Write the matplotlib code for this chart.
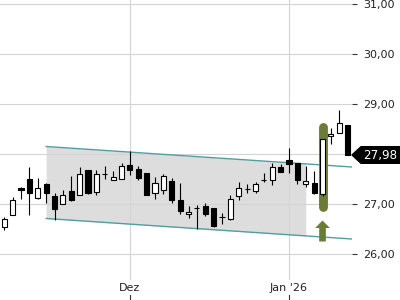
import numpy as np
import pandas as pd
import matplotlib
matplotlib.use("Agg")
import matplotlib.pyplot as plt
from matplotlib.patches import Polygon
from matplotlib.transforms import IdentityTransform, blended_transform_factory

# ---------------- data ----------------
dates = pd.bdate_range("2025-11-10", "2026-01-13", freq="C",
                       holidays=["2025-12-24", "2025-12-25", "2025-12-26",
                                 "2025-12-31", "2026-01-01"])
opens = [26.55, 26.78, 27.32, 27.51, 27.13, 27.41, 27.16, 27.01, 27.27, 27.19,
         27.68, 27.25, 27.61, 27.49, 27.51, 27.78, 27.71, 27.62, 27.23, 27.29,
         27.46, 27.09, 26.80, 26.92, 26.97, 26.93, 26.75, 26.70, 27.17, 27.31,
         27.27, 27.48, 27.49, 27.75, 27.89, 27.82, 27.41, 27.43, 27.21, 28.36,
         28.43, 28.59]
highs = [26.74, 27.14, 27.35, 27.75, 27.52, 27.43, 27.22, 27.29, 27.56, 27.75,
         27.68, 27.69, 27.76, 27.67, 27.83, 28.06, 27.76, 27.62, 27.54, 27.60,
         27.52, 27.43, 26.96, 26.98, 27.02, 26.93, 26.83, 27.18, 27.44, 27.41,
         27.45, 27.63, 27.83, 27.81, 28.13, 27.82, 27.76, 27.66, 28.31, 28.53,
         28.89, 28.59]
lows = [26.48, 26.78, 27.11, 26.79, 27.11, 27.02, 26.68, 27.01, 27.07, 27.19,
        27.21, 27.19, 27.51, 27.48, 27.51, 27.59, 27.48, 27.19, 27.11, 27.21,
        27.03, 26.81, 26.73, 26.51, 26.76, 26.55, 26.61, 26.68, 27.09, 27.23,
        27.23, 27.44, 27.39, 27.65, 27.63, 27.41, 27.35, 27.21, 27.17, 28.21,
        28.43, 27.98]
closes = [26.70, 27.08, 27.28, 27.23, 27.33, 27.21, 26.91, 27.19, 27.07, 27.61,
          27.21, 27.61, 27.59, 27.54, 27.76, 27.67, 27.51, 27.19, 27.43, 27.56,
          27.09, 26.85, 26.84, 26.92, 26.81, 26.55, 26.74, 27.11, 27.33, 27.30,
          27.40, 27.48, 27.75, 27.65, 27.81, 27.49, 27.47, 27.21, 28.31, 28.40,
          28.63, 27.98]
# trend channel: (start index, upper, lower) -> (end index, upper, lower)
channel_x = [5, 41.52]
channel_upper = [28.15, 27.74]
channel_lower = [26.71, 26.30]
channel_fill_end = 36
highlight_index = 38
last_price_label = "27,98"
y_ticks = [26, 27, 28, 29, 30, 31]
y_tick_labels = ["26,00", "27,00", "", "29,00", "30,00", "31,00"]  # 28,00 hidden by price tag
x_tick_labels = ["Dez", "Jan '26"]

# ---------------- style ----------------
OLIVE = "#6b7c38"
TEAL = "#4f9fa1"
FILL = "#dddddd"
GRID = "#d4d4d4"
TXT = "#222222"

plt.rcParams["font.family"] = ["DejaVu Sans"]
fig = plt.figure(figsize=(4, 3), dpi=100)
ax = fig.add_axes([0, 20 / 300, 352 / 400, 280 / 300])
ax.set_xlim(-0.51, 41.52)
ax.set_ylim(25.48, 31.08)
for s in ax.spines.values():
    s.set_visible(False)

x = np.arange(len(opens))
o = np.array(opens); h = np.array(highs); l = np.array(lows); c = np.array(closes)

# grid
for yv in y_ticks:
    ax.axhline(yv, color=GRID, lw=0.8, zorder=0.5)
month_starts = [i for i in range(1, len(dates)) if dates[i].month != dates[i - 1].month]
for xi in month_starts:
    ax.axvline(xi, color=GRID, lw=0.8, zorder=0.5)

# channel
xf = np.array([channel_x[0], channel_fill_end])
ax.fill_between(xf, np.interp(xf, channel_x, channel_lower),
                np.interp(xf, channel_x, channel_upper), color=FILL, lw=0, zorder=0.3)
ax.plot(channel_x, channel_upper, color=TEAL, lw=1.0, zorder=1)
ax.plot(channel_x, channel_lower, color=TEAL, lw=1.0, zorder=1)

# highlight
pad = 0.23
ax.plot([highlight_index, highlight_index],
        [l[highlight_index] - pad, h[highlight_index] + pad],
        color=OLIVE, lw=6.4, solid_capstyle="round", zorder=1.5)
ax.annotate("", xy=(highlight_index, l[highlight_index] - 0.50),
            xytext=(highlight_index, l[highlight_index] - 0.92),
            arrowprops=dict(arrowstyle="simple,head_length=5.4,head_width=10.6,tail_width=4.8",
                            mutation_scale=1, color=OLIVE, lw=0, shrinkA=0, shrinkB=0),
            zorder=1.5)

# candles
up = c >= o
ax.vlines(x, l, h, color="black", lw=0.8, zorder=2)
bw = 0.62
ax.bar(x[up], c[up] - o[up], bottom=o[up], width=bw, color="white",
       edgecolor="black", linewidth=0.8, zorder=3)
ax.bar(x[~up], c[~up] - o[~up], bottom=o[~up], width=bw, color="black",
       edgecolor="black", linewidth=0.8, zorder=3)

# axes ticks
ax.yaxis.tick_right()
ax.set_yticks(y_ticks)
ax.set_yticklabels(y_tick_labels)
ax.tick_params(axis="y", length=3.5, width=0.8, color="#333333", pad=4.3,
               labelsize=8, labelcolor=TXT)
ax.set_xticks(month_starts)
ax.set_xticklabels(x_tick_labels)
ax.tick_params(axis="x", length=0, pad=2, labelsize=8, labelcolor=TXT)
bt = blended_transform_factory(ax.transData, ax.transAxes)
for xi in month_starts:
    ax.plot([xi, xi], [-15 / 280, -20 / 280], transform=bt, color="#333333",
            lw=0.8, clip_on=False)

# last price tag
fig.canvas.draw()
yc = ax.transData.transform((0, c[-1]))[1]
xe = ax.transAxes.transform((1, 0))[0]
hh = 8.3
tag = Polygon([(xe, yc), (xe + 9, yc + hh), (400, yc + hh), (400, yc - hh),
               (xe + 9, yc - hh)], closed=True, color="black",
              transform=IdentityTransform())
fig.add_artist(tag)
fig.text(363 / 400, yc / 300, last_price_label, color="white", fontsize=8.6,
         va="center", ha="left")

fig.savefig("out.png", dpi=100)
